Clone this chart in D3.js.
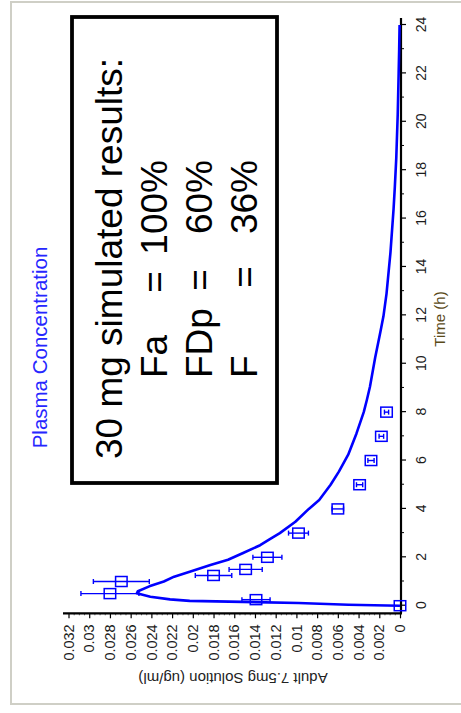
<!DOCTYPE html>
<html>
<head>
<meta charset="utf-8">
<script src="https://cdn.jsdelivr.net/npm/d3@7"></script>
<style>
  html, body { margin: 0; padding: 0; background: #ffffff; }
  svg { display: block; }
  text { font-family: "Liberation Sans", Arial, sans-serif; }
</style>
</head>
<body>
<svg id="chart" width="461" height="713"></svg>
<script>
// Simulated plasma profile (time in h, concentration in ug/ml)
const simTime = [0, 0.04, 0.11, 0.17, 0.2, 0.26, 0.37, 0.51, 0.6, 0.8, 1.0, 1.2, 1.4, 1.68, 1.9,
  2.17, 2.5, 2.74, 3.0, 3.47, 4.0, 4.37, 5.0, 5.54, 6.24, 7.12, 8.0, 8.5, 9.05, 10.25, 11.3,
  11.96, 12.9, 14.6, 16.4, 17.3, 18.5, 20.3, 22.0, 23.0, 24.0];
const simConc = [0, 0.005, 0.0098, 0.0165, 0.0203, 0.0222, 0.0241, 0.0254, 0.0253, 0.0242, 0.0228,
  0.0218, 0.0203, 0.0183, 0.0166, 0.0152, 0.0135, 0.0126, 0.0116, 0.0101, 0.0088, 0.0078, 0.0067,
  0.0059, 0.0050, 0.0042, 0.0035, 0.0032, 0.0029, 0.0024, 0.0019, 0.0016, 0.0013, 0.00092,
  0.00062, 0.0005, 0.00036, 0.00022, 0.00013, 0.00008, 0.00004];

// Observed means with standard deviations
const obsTime = [0, 0.25, 0.5, 1.0, 1.25, 1.5, 2.0, 3.0, 4.0, 5.0, 6.0, 7.0, 8.0];
const obsConc = [0, 0.0139, 0.0280, 0.0269, 0.0180, 0.0149, 0.0128, 0.0098, 0.0060, 0.0039, 0.0028, 0.0018, 0.0013];
const obsSD   = [0, 0.00136, 0.0028, 0.0027, 0.00176, 0.0016, 0.0014, 0.00096, 0.00055, 0.0003, 0.0003, 0.00022, 0.0002];

// Axis ticks
const timeTicks = [0, 2, 4, 6, 8, 10, 12, 14, 16, 18, 20, 22, 24];
const timeMinor = [1, 3, 5, 7, 9, 11, 13, 15, 17, 19, 21, 23];
const concTicks = [0, 0.002, 0.004, 0.006, 0.008, 0.01, 0.012, 0.014, 0.016, 0.018, 0.02, 0.022, 0.024, 0.026, 0.028, 0.03, 0.032];
const concTickLabels = ["0", "0.002", "0.004", "0.006", "0.008", "0.01", "0.012", "0.014", "0.016",
  "0.018", "0.02", "0.022", "0.024", "0.026", "0.028", "0.03", "0.032"];

// Text
const chartTitle = "Plasma Concentration";
const xTitle = "Time (h)";
const yTitle = "Adult 7.5mg Solution (ug/ml)";
const noteHeading = "30 mg simulated results:";
const noteNames = ["Fa", "FDp", "F"];
const noteValues = ["100%", "60%", "36%"];

const W = 461, H = 713;
const blue = "#0000ff";
const svg = d3.select("#chart");

// Window frame
svg.append("rect").attr("x", 0).attr("y", 0).attr("width", W).attr("height", H).attr("fill", "#ffffff");
svg.append("rect")
  .attr("x", 11).attr("y", 2).attr("width", 470).attr("height", 702)
  .attr("fill", "#ffffff").attr("stroke", "#cfcfc6").attr("stroke-width", 2);

// The whole chart is laid out landscape and turned a quarter turn anticlockwise
const g = svg.append("g").attr("transform", `translate(0,${H}) rotate(-90)`);

const x = d3.scaleLinear().domain([0, 24]).range([107.3, 688]);
const y = d3.scaleLinear().domain([0, 0.032]).range([400, 68.5]);

const axisY0 = 401;   // baseline of the time axis
const axisX0 = 99.7;  // position of the concentration axis

// Time axis
const xAxis = g.append("g").attr("transform", `translate(0,${axisY0})`)
  .call(d3.axisBottom(x).tickValues(timeTicks).tickSize(5).tickPadding(10).tickFormat(d => d));
xAxis.select(".domain").remove();
xAxis.selectAll(".tick line").attr("stroke", "#000").attr("stroke-width", 1.2);
xAxis.selectAll(".tick text").attr("font-size", 14).attr("fill", "#1c1c1c");
const xMinor = g.append("g").attr("transform", `translate(0,${axisY0})`)
  .call(d3.axisBottom(x).tickValues(timeMinor).tickSize(3).tickFormat(""));
xMinor.select(".domain").remove();
xMinor.selectAll(".tick line").attr("stroke", "#000").attr("stroke-width", 1);
g.append("line").attr("x1", 100).attr("x2", 695).attr("y1", axisY0).attr("y2", axisY0)
  .attr("stroke", "#000").attr("stroke-width", 2.2);

// Concentration axis
const concMinor = [];
concTicks.slice(0, -1).forEach(v => { [1, 2, 3].forEach(k => concMinor.push(v + k * 0.0005)); });
const yMinor = g.append("g").attr("transform", `translate(${axisX0},0)`)
  .call(d3.axisLeft(y).tickValues(concMinor).tickSize(2).tickFormat(""));
yMinor.select(".domain").remove();
yMinor.selectAll(".tick line").attr("stroke", "#444").attr("stroke-width", 0.8);
const yAxis = g.append("g").attr("transform", `translate(${axisX0},0)`)
  .call(d3.axisLeft(y).tickValues(concTicks).tickSize(5).tickPadding(6)
    .tickFormat((d, i) => concTickLabels[i]));
yAxis.select(".domain").remove();
yAxis.selectAll(".tick line").attr("stroke", "#000").attr("stroke-width", 1.2);
yAxis.selectAll(".tick text").attr("font-size", 14.5).attr("fill", "#1c1c1c");
g.append("line").attr("x1", axisX0).attr("x2", axisX0).attr("y1", 63).attr("y2", 402)
  .attr("stroke", "#000").attr("stroke-width", 2.2);

// Titles
g.append("text").attr("x", 365.5).attr("y", 46.5).attr("text-anchor", "middle")
  .attr("font-size", 20.5).attr("fill", "#2626ff").text(chartTitle);
g.append("text").attr("x", 394).attr("y", 445).attr("text-anchor", "middle")
  .attr("font-size", 15).attr("fill", "#5a4a18").text(xTitle);
g.append("text").attr("transform", "translate(40,233) rotate(-90)").attr("text-anchor", "middle")
  .attr("font-size", 15).attr("fill", "#222").text(yTitle);

// Simulated curve
const simData = simTime.map((t, i) => [t, simConc[i]]);
g.append("path").datum(simData)
  .attr("d", d3.line().x(d => x(d[0])).y(d => y(d[1])))
  .attr("fill", "none").attr("stroke", blue).attr("stroke-width", 2.6)
  .attr("stroke-linejoin", "round");

// Observed points with error bars
const obs = obsTime.map((t, i) => ({ t, c: obsConc[i], sd: obsSD[i] }));
const pts = g.append("g").selectAll("g").data(obs).join("g");
pts.filter(d => d.sd > 0).append("line")
  .attr("x1", d => x(d.t)).attr("x2", d => x(d.t))
  .attr("y1", d => y(d.c - d.sd)).attr("y2", d => y(d.c + d.sd))
  .attr("stroke", blue).attr("stroke-width", 1.4);
[-1, 1].forEach(s => {
  pts.filter(d => d.sd > 0).append("line")
    .attr("x1", d => x(d.t) - 2.5).attr("x2", d => x(d.t) + 2.5)
    .attr("y1", d => y(d.c + s * d.sd)).attr("y2", d => y(d.c + s * d.sd))
    .attr("stroke", blue).attr("stroke-width", 1.4);
});
pts.append("rect")
  .attr("x", d => x(d.t) - 5).attr("y", d => y(d.c) - 5.75)
  .attr("width", 10).attr("height", 11.5)
  .attr("fill", "none").attr("stroke", blue).attr("stroke-width", 1.5);

// Results note
const note = g.append("g");
note.append("rect").attr("x", 230).attr("y", 72).attr("width", 466).attr("height", 205)
  .attr("fill", "#ffffff").attr("stroke", "#000").attr("stroke-width", 3.8);
note.append("text").attr("x", 254).attr("y", 122).attr("font-size", 37).attr("fill", "#000")
  .text(noteHeading);
const lineY = [167, 211.5, 256.5];
const eqX = [431, 433, 436];
noteNames.forEach((name, i) => {
  note.append("text").attr("x", 335).attr("y", lineY[i]).attr("font-size", 37).attr("fill", "#000").text(name);
  note.append("text").attr("x", eqX[i]).attr("y", lineY[i]).attr("text-anchor", "middle")
    .attr("font-size", 37).attr("fill", "#000").text("=");
  note.append("text").attr("x", 553).attr("y", lineY[i]).attr("text-anchor", "end")
    .attr("font-size", 37).attr("fill", "#000").text(noteValues[i]);
});
</script>
</body>
</html>
